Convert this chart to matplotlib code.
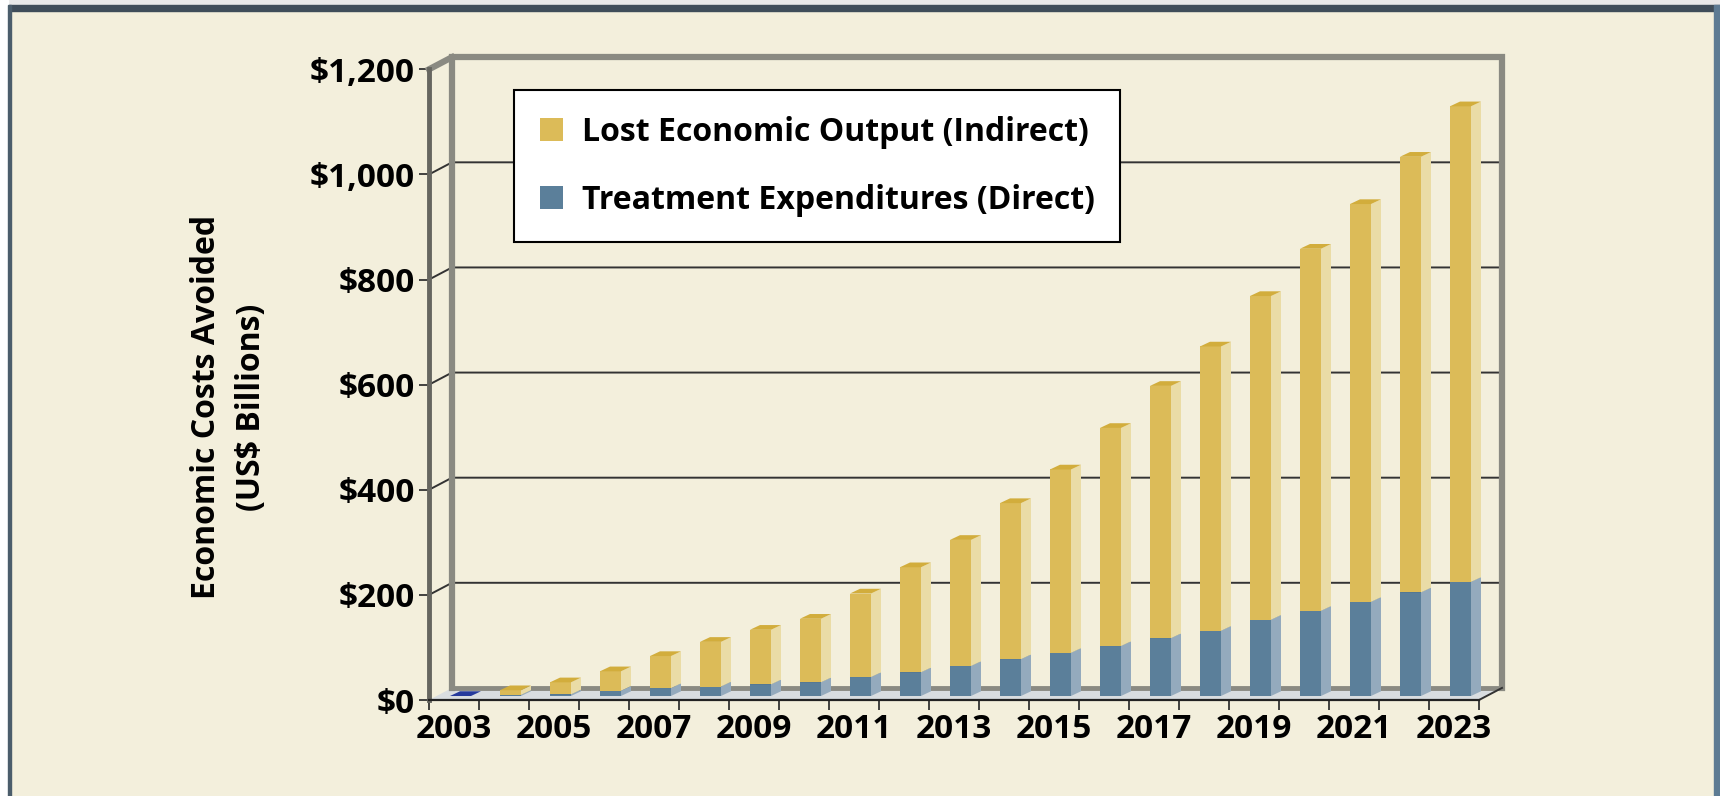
import matplotlib.pyplot as plt
from matplotlib.patches import Patch, Polygon, Rectangle

# Economic costs avoided, US$ billions
years = list(range(2003, 2024))
direct = [0, 2, 3, 10, 15, 18, 22, 26, 36, 45, 57, 70, 82, 95, 110, 124, 145, 162, 179, 197, 217]
indirect = [0, 9, 23, 37, 61, 85, 104, 121, 159, 200, 240, 297, 349, 415, 480, 541, 616, 689, 757,
            829, 905]
series_labels = ["Lost Economic Output (Indirect)", "Treatment Expenditures (Direct)"]
y_ticks = [0, 200, 400, 600, 800, 1000, 1200]

BG = "#f3efdc"
YELLOW = ("#dcbb58", "#eadca6", "#d2ad3c")   # front, side, top
BLUE = ("#5b7f9a", "#94aabd", "#4e7089")
ZERO_TOP = "#263a9c"
WALL = "#8a8a82"

# pseudo-3D geometry in data units (x: categories, y: dollars)
DEPTH_X, DEPTH_Y = 0.46, 23.0
BAR_LEFT, BAR_W = 0.42, 0.42
BAR_DX, BAR_DY = 0.2, 9.0
BAR_BASE = 7.6
YMAX = 1200
n = len(years)

plt.rcParams["font.family"] = ["Open Sans", "DejaVu Sans"]
plt.rcParams["font.weight"] = "bold"

fig = plt.figure(figsize=(17.2, 7.96), dpi=100, facecolor=BG)
ax = fig.add_axes([429 / 1720, 96 / 796, 1050 / 1720, 630.7 / 796])
ax.set_xlim(0, n)
ax.set_ylim(0, YMAX)
ax.patch.set_visible(False)
for s in ax.spines.values():
    s.set_visible(False)

# frame around the panel
fig.patches.append(Rectangle((0, 1 - 5 / 796), 1, 5 / 796, transform=fig.transFigure,
                             color="#e8e8e8", zorder=-5))
fig.patches.append(Rectangle((8 / 1720, 1 - 11 / 796), 1, 6 / 796, transform=fig.transFigure,
                             color="#3f4d59", zorder=-4))
fig.patches.append(Rectangle((0, 0), 8 / 1720, 1, transform=fig.transFigure,
                             color="white", zorder=-4))
fig.patches.append(Rectangle((8 / 1720, 0), 3 / 1720, 1 - 5 / 796, transform=fig.transFigure,
                             color="#4b5d6b", zorder=-4))
fig.patches.append(Rectangle((1 - 6 / 1720, 0), 6 / 1720, 1 - 5 / 796, transform=fig.transFigure,
                             color="#5d7b93", zorder=-4))

kw = dict(clip_on=False)

# floor
ax.add_patch(Polygon([(0, 0), (n, 0), (n + DEPTH_X, DEPTH_Y), (DEPTH_X, DEPTH_Y)],
                     closed=True, facecolor="#d9dde0", edgecolor="none", zorder=1, **kw))

# gridlines on the back wall plus their diagonals on the side wall
for v in y_ticks[1:-1]:
    ax.plot([0, DEPTH_X, n + DEPTH_X], [v, v + DEPTH_Y, v + DEPTH_Y],
            color="#333333", lw=1.4, zorder=1, **kw)

# wall edges
ax.plot([DEPTH_X, DEPTH_X, n + DEPTH_X, n + DEPTH_X],
        [DEPTH_Y, YMAX + DEPTH_Y, YMAX + DEPTH_Y, DEPTH_Y],
        color=WALL, lw=4.5, solid_joinstyle="miter", zorder=2, **kw)
ax.plot([DEPTH_X, n + DEPTH_X], [DEPTH_Y, DEPTH_Y], color=WALL, lw=3.5, zorder=2, **kw)
ax.plot([0, DEPTH_X], [YMAX, YMAX + DEPTH_Y], color=WALL, lw=4.5, zorder=2, **kw)
ax.plot([n, n + DEPTH_X], [0, DEPTH_Y], color="#333333", lw=1.4, zorder=2, **kw)
ax.plot([0, 0], [0, YMAX], color="#666660", lw=3.5, zorder=6, **kw)
ax.plot([0, n], [0, 0], color="#222222", lw=1.6, zorder=6, **kw)


def draw_block(x0, b, t, colors, z):
    x1 = x0 + BAR_W
    yb, yt = b + BAR_BASE, t + BAR_BASE
    front, side, top = colors
    ax.add_patch(Polygon([(x0, yb), (x1, yb), (x1, yt), (x0, yt)], closed=True,
                         facecolor=front, edgecolor="none", zorder=z, **kw))
    ax.add_patch(Polygon([(x1, yb), (x1 + BAR_DX, yb + BAR_DY), (x1 + BAR_DX, yt + BAR_DY),
                          (x1, yt)], closed=True, facecolor=side, edgecolor="none",
                         zorder=z, **kw))
    ax.add_patch(Polygon([(x0, yt), (x1, yt), (x1 + BAR_DX, yt + BAR_DY), (x0 + BAR_DX, yt + BAR_DY)],
                         closed=True, facecolor=top, edgecolor="none", zorder=z, **kw))


for i, (d, ind) in enumerate(zip(direct, indirect)):
    x0 = i + BAR_LEFT
    if d + ind == 0:
        draw_block(x0, 0, 0, (ZERO_TOP, ZERO_TOP, ZERO_TOP), 3)
        continue
    draw_block(x0, 0, d, BLUE, 3)
    draw_block(x0, d, d + ind, YELLOW, 3)

# axes ticks and labels
ax.set_yticks(y_ticks)
ax.set_yticklabels([f"${v:,}" for v in y_ticks])
ax.set_xticks(range(n + 1))
ax.set_xticklabels([])
ax.set_xticks([i + 0.5 for i in range(0, n, 2)], minor=True)
ax.set_xticklabels([str(y) for y in years[::2]], minor=True)
ax.tick_params(axis="y", length=7, width=1.3, color="#333333", labelsize=24, pad=3)
ax.tick_params(axis="x", which="major", length=7, width=1.3, color="#333333")
ax.tick_params(axis="x", which="minor", length=0, labelsize=24, pad=9)
for lab in ax.get_yticklabels() + ax.get_xticklabels(minor=True):
    lab.set_fontweight("bold")

fig.text(229 / 1720, 1 - 407 / 796, "Economic Costs Avoided\n(US$ Billions)", rotation=90,
         ha="center", va="center", fontsize=23, fontweight="bold", linespacing=1.45,
         multialignment="center")

handles = [Patch(facecolor=YELLOW[0], edgecolor="none"), Patch(facecolor=BLUE[0], edgecolor="none")]
leg = ax.legend(handles, series_labels, loc="upper left",
                bbox_to_anchor=(514 / 1720, 1 - 90 / 796), bbox_transform=fig.transFigure,
                frameon=True, fancybox=False, framealpha=1, facecolor="white",
                edgecolor="black", borderpad=0.8, handlelength=0.72, handleheight=0.72,
                handletextpad=0.6, labelspacing=1.1, borderaxespad=0,
                prop={"size": 23, "weight": "bold"})
leg.get_frame().set_linewidth(1.5)
leg.set_zorder(10)

fig.savefig("out.png", dpi=100, facecolor=BG)
